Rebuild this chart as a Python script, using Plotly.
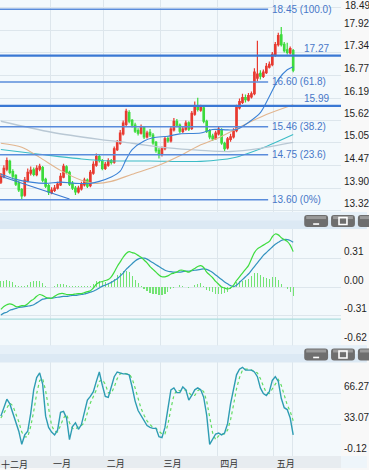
import plotly.graph_objects as go

# ---------------- data ----------------
month_labels = ["十二月", "一月", "二月", "三月", "四月", "五月"]
month_first_idx = [0, 17, 35, 54, 73, 92]

close = [14.20, 14.40, 14.60, 14.30, 14.20, 14.00, 13.85, 13.70, 14.10, 14.30,
         14.35, 14.25, 14.40, 14.45, 14.10, 13.95, 13.80, 13.85, 13.90, 14.00,
         14.20, 14.45, 14.30, 14.00, 13.90, 13.80, 13.90, 14.00, 14.10, 13.95,
         14.30, 14.50, 14.70, 14.60, 14.40, 14.50, 14.60, 14.55, 14.90, 15.05,
         15.30, 15.55, 15.85, 15.60, 15.50, 15.35, 15.30, 15.45, 15.20, 15.30,
         15.25, 15.05, 14.85, 14.75, 14.90, 15.15, 15.10, 15.40, 15.60, 15.50,
         15.35, 15.40, 15.55, 15.40, 15.80, 16.00, 15.90, 15.95, 15.60, 15.35,
         15.20, 15.15, 15.30, 15.40, 15.05, 14.90, 15.15, 15.20, 15.35, 15.95,
         16.10, 16.20, 16.15, 16.25, 16.30, 16.85, 16.80, 16.75, 16.85, 17.00,
         17.05, 17.30, 17.55, 17.78, 17.55, 17.40, 17.35, 17.45, 16.90]
open_ = [14.05, 14.20, 14.38, 14.58, 14.32, 14.22, 14.02, 13.86, 13.72, 14.08,
         14.28, 14.36, 14.24, 14.38, 14.42, 14.12, 13.96, 13.78, 13.84, 13.90,
         13.98, 14.18, 14.44, 14.30, 14.02, 13.90, 13.80, 13.88, 13.98, 14.10,
         13.96, 14.28, 14.48, 14.70, 14.60, 14.40, 14.48, 14.60, 14.56, 14.88,
         15.04, 15.28, 15.52, 15.82, 15.62, 15.50, 15.36, 15.30, 15.44, 15.20,
         15.32, 15.25, 15.06, 14.86, 14.76, 14.90, 15.16, 15.10, 15.38, 15.60,
         15.50, 15.34, 15.40, 15.56, 15.42, 15.78, 16.00, 15.88, 15.94, 15.60,
         15.36, 15.22, 15.16, 15.28, 15.38, 15.04, 14.92, 15.14, 15.20, 15.36,
         15.94, 16.08, 16.20, 16.14, 16.22, 16.30, 16.70, 16.82, 16.74, 16.84,
         16.98, 17.04, 17.28, 17.55, 17.80, 17.56, 17.42, 17.34, 17.40]
high = [14.28, 14.48, 14.68, 14.62, 14.38, 14.25, 14.08, 13.90, 14.18, 14.40,
        14.45, 14.42, 14.48, 14.52, 14.46, 14.16, 14.00, 13.92, 13.98, 14.06,
        14.28, 14.52, 14.48, 14.34, 14.08, 13.95, 13.96, 14.06, 14.16, 14.14,
        14.36, 14.58, 14.78, 14.76, 14.64, 14.56, 14.66, 14.64, 14.96, 15.12,
        15.38, 15.62, 15.92, 15.88, 15.66, 15.56, 15.42, 15.52, 15.48, 15.36,
        15.40, 15.30, 15.10, 14.92, 14.96, 15.20, 15.22, 15.46, 15.68, 15.66,
        15.54, 15.48, 15.62, 15.60, 15.86, 16.10, 16.20, 16.02, 15.98, 15.64,
        15.40, 15.28, 15.36, 15.46, 15.42, 15.08, 15.20, 15.28, 15.42, 16.02,
        16.18, 16.30, 16.28, 16.32, 16.36, 16.95, 17.65, 16.90, 16.92, 17.08,
        17.12, 17.36, 17.62, 17.85, 18.00, 17.62, 17.60, 17.50, 17.44]
low = [14.00, 14.15, 14.33, 14.25, 14.12, 13.95, 13.80, 13.62, 13.68, 14.05,
       14.22, 14.20, 14.20, 14.33, 14.05, 13.90, 13.72, 13.74, 13.80, 13.86,
       13.95, 14.15, 14.25, 13.95, 13.85, 13.72, 13.76, 13.84, 13.94, 13.90,
       13.92, 14.24, 14.44, 14.55, 14.35, 14.36, 14.44, 14.50, 14.52, 14.84,
       15.00, 15.24, 15.48, 15.55, 15.44, 15.30, 15.24, 15.26, 15.15, 15.16,
       15.20, 15.00, 14.80, 14.65, 14.70, 14.86, 15.05, 15.06, 15.34, 15.45,
       15.30, 15.30, 15.36, 15.35, 15.38, 15.74, 15.85, 15.84, 15.55, 15.30,
       15.14, 15.10, 15.12, 15.24, 15.00, 14.82, 14.88, 15.08, 15.16, 15.32,
       15.90, 16.04, 16.08, 16.10, 16.18, 16.26, 16.62, 16.66, 16.70, 16.80,
       16.94, 17.00, 17.24, 17.50, 17.50, 17.35, 17.30, 17.30, 16.85]

ma20_idx = [0, 5, 10, 15, 20, 25, 30, 33, 37, 40, 42, 44, 48, 51, 56, 60, 67, 71, 76, 79, 83, 87, 90, 93, 96, 98]
ma20_val = [14.25, 14.12, 14.05, 14.02, 14.05, 14.02, 14.02, 14.07, 14.18, 14.33, 14.63, 14.88, 15.10,
            15.18, 15.22, 15.28, 15.30, 15.39, 15.38, 15.39, 15.57, 15.82, 16.23, 16.66, 16.91, 16.99]
ma60_idx = [0, 7, 13, 20, 27, 32, 37, 44, 53, 60, 67, 73, 80, 89, 98]
ma60_val = [15.04, 14.94, 14.68, 14.35, 14.10, 14.02, 14.07, 14.25, 14.48, 14.72, 15.00, 15.18, 15.45, 15.77, 16.02]
ma120_idx = [0, 17, 33, 44, 56, 67, 77, 87, 98]
ma120_val = [15.60, 15.32, 15.14, 15.04, 14.92, 14.86, 14.83, 14.91, 15.06]
ma250_idx = [0, 13, 27, 37, 50, 67, 78, 89, 98]
ma250_val = [14.88, 14.76, 14.64, 14.59, 14.59, 14.58, 14.67, 14.96, 15.26]
trend_idx = [0, 23]
trend_val = [14.20, 13.62]

fib_levels = [18.45, 16.60, 15.46, 14.75, 13.60]
fib_pct = ["100.0", "61.8", "38.2", "23.6", "0%"]
fib_end_idx = 89.6
support_levels = [17.27, 15.99]

price_ticks = [13.32, 13.90, 14.47, 15.05, 15.62, 16.19, 16.77, 17.34, 17.92, 18.49]

dif = [-0.24, -0.21, -0.19, -0.18, -0.19, -0.21, -0.21, -0.20, -0.20, -0.18,
       -0.15, -0.13, -0.10, -0.08, -0.09, -0.11, -0.12, -0.12, -0.10, -0.08,
       -0.07, -0.07, -0.08, -0.08, -0.08, -0.075, -0.07, -0.07, -0.06, -0.05,
       -0.04, -0.01, 0.03, 0.05, 0.06, 0.07, 0.08, 0.11, 0.16, 0.22,
       0.27, 0.32, 0.36, 0.38, 0.37, 0.36, 0.34, 0.32, 0.29, 0.26,
       0.22, 0.19, 0.16, 0.13, 0.11, 0.11, 0.12, 0.14, 0.15, 0.16,
       0.18, 0.18, 0.17, 0.16, 0.18, 0.20, 0.22, 0.23, 0.21, 0.16,
       0.13, 0.10, 0.06, 0.03, 0.00, -0.01, -0.02, -0.01, 0.02, 0.07,
       0.11, 0.15, 0.19, 0.23, 0.30, 0.37, 0.41, 0.43, 0.45, 0.47,
       0.49, 0.54, 0.57, 0.56, 0.53, 0.51, 0.49, 0.45, 0.38]
dea = [-0.30, -0.28, -0.27, -0.25, -0.24, -0.23, -0.22, -0.215, -0.21, -0.205,
       -0.20, -0.19, -0.17, -0.15, -0.13, -0.125, -0.12, -0.12, -0.115, -0.11,
       -0.105, -0.10, -0.10, -0.095, -0.09, -0.09, -0.085, -0.08, -0.075, -0.065,
       -0.055, -0.045, -0.03, -0.01, 0.01, 0.02, 0.035, 0.05, 0.07, 0.09,
       0.12, 0.15, 0.19, 0.22, 0.25, 0.28, 0.30, 0.31, 0.31, 0.30,
       0.28, 0.26, 0.24, 0.22, 0.20, 0.18, 0.17, 0.165, 0.16, 0.16,
       0.16, 0.165, 0.17, 0.17, 0.175, 0.18, 0.185, 0.19, 0.195, 0.19,
       0.175, 0.155, 0.13, 0.105, 0.08, 0.055, 0.035, 0.015, 0.005, 0.02,
       0.05, 0.08, 0.11, 0.14, 0.18, 0.22, 0.26, 0.30, 0.34, 0.37,
       0.40, 0.43, 0.46, 0.48, 0.50, 0.51, 0.51, 0.50, 0.48]
macd_hist = [0.06, 0.07, 0.08, 0.07, 0.05, 0.02, 0.01, 0.015, 0.01, 0.025,
             0.05, 0.06, 0.07, 0.07, 0.04, 0.015, 0.003, 0.003, 0.015, 0.03,
             0.035, 0.03, 0.02, 0.015, 0.01, 0.015, 0.015, 0.01, 0.015, 0.015,
             0.015, 0.035, 0.06, 0.06, 0.05, 0.05, 0.045, 0.06, 0.09, 0.13,
             0.15, 0.17, 0.17, 0.16, 0.12, 0.08, 0.04, 0.01, -0.02, -0.04,
             -0.06, -0.07, -0.08, -0.09, -0.09, -0.07, -0.05, -0.025, -0.01, 0.003,
             0.02, 0.015, 0.003, -0.01, 0.005, 0.02, 0.035, 0.04, 0.015, -0.03,
             -0.045, -0.055, -0.07, -0.075, -0.08, -0.065, -0.055, -0.025, 0.015, 0.05,
             0.06, 0.07, 0.08, 0.09, 0.12, 0.15, 0.15, 0.13, 0.11, 0.10,
             0.09, 0.11, 0.11, 0.08, 0.03, 0.003, -0.02, -0.05, -0.10]
macd_ref_level = -0.345
macd_ticks = [-0.62, -0.31, 0.00, 0.31]
macd_ticktext = ["-0.62", "-0.31", "0.00", "0.31"]

stoch_k = [42, 52, 60, 55, 45, 36, 26, 12, 22, 26, 45, 70, 83, 88, 76, 42, 30, 25, 22, 27,
           46, 47, 40, 17, 31, 35, 28, 33, 45, 59, 63, 68, 79, 89, 75, 63, 62, 72, 84, 89,
           88, 87, 87, 86, 73, 58, 48, 43, 37, 32, 30, 29, 29, 20, 19, 30, 50, 70, 72, 67,
           67, 73, 70, 59, 64, 70, 72, 70, 62, 43, 12, 17, 23, 24, 22, 24, 34, 55, 72, 86,
           92, 94, 91, 91, 91, 89, 84, 72, 66, 64, 68, 80, 84, 79, 61, 51, 49, 40, 22]
stoch_d = [40, 45, 51, 56, 53, 45, 36, 25, 20, 20, 31, 47, 66, 80, 82, 69, 49, 32, 26, 25,
           32, 40, 44, 35, 29, 28, 31, 32, 35, 46, 56, 63, 70, 79, 81, 76, 67, 66, 73, 82,
           87, 88, 87, 87, 82, 72, 60, 50, 43, 37, 33, 30, 29, 26, 23, 23, 33, 50, 64, 70,
           69, 69, 70, 67, 64, 64, 69, 71, 68, 58, 39, 24, 17, 21, 23, 23, 27, 38, 54, 71,
           83, 91, 92, 92, 91, 90, 88, 82, 74, 67, 66, 71, 77, 81, 75, 64, 54, 47, 37]
stoch_ticks = [-0.12, 33.07, 66.27]
stoch_ticktext = ["-0.12", "33.07", "66.27"]

idx = list(range(len(close)))
assert len(open_) == len(high) == len(low) == len(close) == 99
assert len(dif) == len(dea) == len(macd_hist) == len(stoch_k) == len(stoch_d) == 99

# ---------------- geometry helpers (page pixels -> paper) ----------------
W, H = 369, 470
PW = 343  # plot width


def px(x):
    return x / PW


def py(y):
    return 1 - y / H


RED = "#E83A30"
GREEN = "#3CDB3C"
GRID = "#DDE6EC"
FIBC = "#5A8CDB"
LABC = "#4777C8"
TICKFONT = dict(family="Liberation Sans", size=10, color="#1E1E1E")

fig = go.Figure()

# moving averages
for xs, ys, col, w in [(ma250_idx, ma250_val, "#3CBCC6", 1.1),
                       (ma120_idx, ma120_val, "#B9C8D4", 1.3),
                       (ma60_idx, ma60_val, "#E2B58E", 1.1),
                       (ma20_idx, ma20_val, "#3B82D6", 1.1)]:
    fig.add_trace(go.Scatter(x=xs, y=ys, mode="lines", line=dict(color=col, width=w, shape="spline", smoothing=0.8),
                             xaxis="x", yaxis="y", hoverinfo="skip"))
fig.add_trace(go.Scatter(x=trend_idx, y=trend_val, mode="lines", line=dict(color="#3B78D0", width=1.2),
                         xaxis="x", yaxis="y", hoverinfo="skip"))

# fibonacci levels
for lv, pc in zip(fib_levels, fib_pct):
    fig.add_trace(go.Scatter(x=[-2, fib_end_idx], y=[lv, lv], mode="lines", line=dict(color=FIBC, width=1.5),
                             xaxis="x", yaxis="y", hoverinfo="skip"))
    fig.add_annotation(x=fib_end_idx, y=lv, xref="x", yref="y", text=f"{lv:.2f} ({pc})", showarrow=False,
                       xanchor="left", yanchor="middle", xshift=2,
                       font=dict(family="Liberation Sans", size=10, color=LABC))

# support / resistance lines
for lv in support_levels:
    fig.add_shape(type="line", xref="x domain", yref="y", x0=0, x1=1, y0=lv, y1=lv,
                  line=dict(color="#3A78D4", width=2.2))
    fig.add_annotation(x=333 / PW, y=lv, xref="x domain", yref="y", text=f"{lv:.2f}", showarrow=False,
                       xanchor="right", yanchor="bottom", yshift=0,
                       font=dict(family="Liberation Sans", size=10, color=LABC))

# candles
fig.add_trace(go.Candlestick(x=idx, open=open_, high=high, low=low, close=close,
                             increasing=dict(line=dict(color=RED, width=1.2), fillcolor=RED),
                             decreasing=dict(line=dict(color=GREEN, width=1.2), fillcolor=GREEN),
                             whiskerwidth=0, xaxis="x", yaxis="y", hoverinfo="skip"))

# MACD pane
fig.add_shape(type="line", xref="x2 domain", yref="y2", x0=0, x1=1, y0=macd_ref_level, y1=macd_ref_level,
              line=dict(color="#A9DCDD", width=1.2))
fig.add_trace(go.Bar(x=idx, y=macd_hist, width=0.38, marker=dict(color="#74E374", line=dict(width=0)),
                     xaxis="x2", yaxis="y2", hoverinfo="skip"))
fig.add_trace(go.Scatter(x=idx, y=dea, mode="lines", line=dict(color="#3492BF", width=1.2, shape="spline"),
                         xaxis="x2", yaxis="y2", hoverinfo="skip"))
fig.add_trace(go.Scatter(x=idx, y=dif, mode="lines", line=dict(color="#3EDC3E", width=1.2, shape="spline"),
                         xaxis="x2", yaxis="y2", hoverinfo="skip"))

# Stochastic pane
fig.add_trace(go.Scatter(x=idx, y=stoch_d, mode="lines", line=dict(color="#62DC62", width=1.2, dash="dot"),
                         xaxis="x3", yaxis="y3", hoverinfo="skip"))
fig.add_trace(go.Scatter(x=idx, y=stoch_k, mode="lines", line=dict(color="#2E9CB3", width=1.4),
                         xaxis="x3", yaxis="y3", hoverinfo="skip"))

# ---------------- decorations: toolbar bands, buttons, axis band ----------------
shapes = []
for (y0, y1) in [(213, 230), (347, 364)]:
    shapes.append(dict(type="rect", xref="paper", yref="paper", x0=px(0), x1=px(W), y0=py(y1), y1=py(y0),
                       fillcolor="#DCE9F4", line=dict(width=0), layer="above"))
    shapes.append(dict(type="rect", xref="paper", yref="paper", x0=px(0), x1=px(W), y0=py((y0 + y1) / 2), y1=py(y0),
                       fillcolor="#E6F0F8", line=dict(width=0), layer="above"))
    by0, by1 = y0 + 3, y1 - 2
    for bx in [306, 333, 360]:
        bx1 = bx + 24
        r = 3
        path = (f"M {px(bx + r)},{py(by0)} L {px(bx1 - r)},{py(by0)} Q {px(bx1)},{py(by0)} {px(bx1)},{py(by0 + r)} "
                f"L {px(bx1)},{py(by1 - r)} Q {px(bx1)},{py(by1)} {px(bx1 - r)},{py(by1)} "
                f"L {px(bx + r)},{py(by1)} Q {px(bx)},{py(by1)} {px(bx)},{py(by1 - r)} "
                f"L {px(bx)},{py(by0 + r)} Q {px(bx)},{py(by0)} {px(bx + r)},{py(by0)} Z")
        shapes.append(dict(type="path", xref="paper", yref="paper", path=path, fillcolor="#6E6E6E",
                           line=dict(width=0), layer="above"))
        shapes.append(dict(type="rect", xref="paper", yref="paper", x0=px(bx + 2), x1=px(bx1 - 2),
                           y0=py(by0 + 4), y1=py(by0 + 1), fillcolor="#9A9A9A", line=dict(width=0), layer="above"))
    # "_" glyph
    shapes.append(dict(type="line", xref="paper", yref="paper", x0=px(315), x1=px(321), y0=py(by1 - 3), y1=py(by1 - 3),
                       line=dict(color="white", width=1.6), layer="above"))
    # square glyph
    shapes.append(dict(type="rect", xref="paper", yref="paper", x0=px(341), x1=px(349), y0=py(by1 - 2.5), y1=py(by0 + 2.5),
                       line=dict(color="white", width=1.6), fillcolor="rgba(0,0,0,0)", layer="above"))
# x-axis label band
shapes.append(dict(type="rect", xref="paper", yref="paper", x0=px(0), x1=px(PW), y0=py(H), y1=py(458),
                   fillcolor="#E7ECF0", line=dict(width=0), layer="below"))
shapes.append(dict(type="rect", xref="paper", yref="paper", x0=px(PW), x1=px(W), y0=py(H), y1=py(458),
                   fillcolor="#EEF5FA", line=dict(width=0), layer="below"))
for s in shapes:
    fig.add_shape(**s)

# December label (its month line lies left of the visible range)
fig.add_annotation(x=0, y=py(458), xref="x3 domain", yref="paper", text=month_labels[0], showarrow=False,
                   xanchor="left", yanchor="top", xshift=-1, yshift=0,
                   font=dict(family="Noto Sans CJK SC", size=9, color="#333333"))

# top price label sits above the pane edge, so it is placed as text at its own value
fig.add_annotation(x=1, y=price_ticks[-1], xref="x domain", yref="y", text=f"{price_ticks[-1]:.2f}",
                   showarrow=False, xanchor="left", yanchor="bottom", xshift=2, yshift=-5, font=TICKFONT)

xt_vals = [m - 0.5 for m in month_first_idx[1:]] + [idx[-1] - 0.4]
xt_text = month_labels[1:] + [""]
xcommon = dict(range=[-0.3, 114.03], tickmode="array", tickvals=xt_vals, ticktext=xt_text,
               showgrid=True, gridcolor=GRID, gridwidth=1, zeroline=False, showline=False,
               ticks="", fixedrange=True, rangeslider=dict(visible=False))

ycommon = dict(side="right", showgrid=True, gridcolor=GRID, gridwidth=1, zeroline=False, showline=False,
               ticks="", tickfont=TICKFONT, ticklabelposition="outside top", ticklabelstandoff=2,
               tickmode="array", fixedrange=True)

fig.update_layout(
    width=W, height=H, margin=dict(l=0, r=W - PW, t=0, b=0),
    paper_bgcolor="#F8F8F8", plot_bgcolor="#F3F9FC",
    showlegend=False, hovermode=False,
    xaxis=dict(**xcommon, domain=[0, 1], anchor="y", showticklabels=False),
    xaxis2=dict(**xcommon, domain=[0, 1], anchor="y2", matches="x", showticklabels=False),
    xaxis3=dict(**xcommon, domain=[0, 1], anchor="y3", matches="x", showticklabels=True,
                tickfont=dict(family="Noto Sans CJK SC", size=9, color="#333333"),
                ticklabelposition="outside right", ticklabelshift=3, ticklabelstandoff=1),
    yaxis=dict(**ycommon, domain=[py(213), py(0)], range=[13.288, 18.686], anchor="x",
               tickvals=price_ticks, ticktext=[f"{v:.2f}" for v in price_ticks[:-1]] + [""]),
    yaxis2=dict(**ycommon, domain=[py(347), py(230)], range=[-0.628, 0.623], anchor="x2",
                tickvals=macd_ticks, ticktext=macd_ticktext),
    yaxis3=dict(**ycommon, domain=[py(458), py(364)], range=[-0.5, 99.15], anchor="x3",
                tickvals=stoch_ticks, ticktext=stoch_ticktext),
    bargap=0,
)

fig.write_html("out.html", config={"staticPlot": True},
               post_script="document.body.style.margin='0';document.body.style.overflow='hidden';")
